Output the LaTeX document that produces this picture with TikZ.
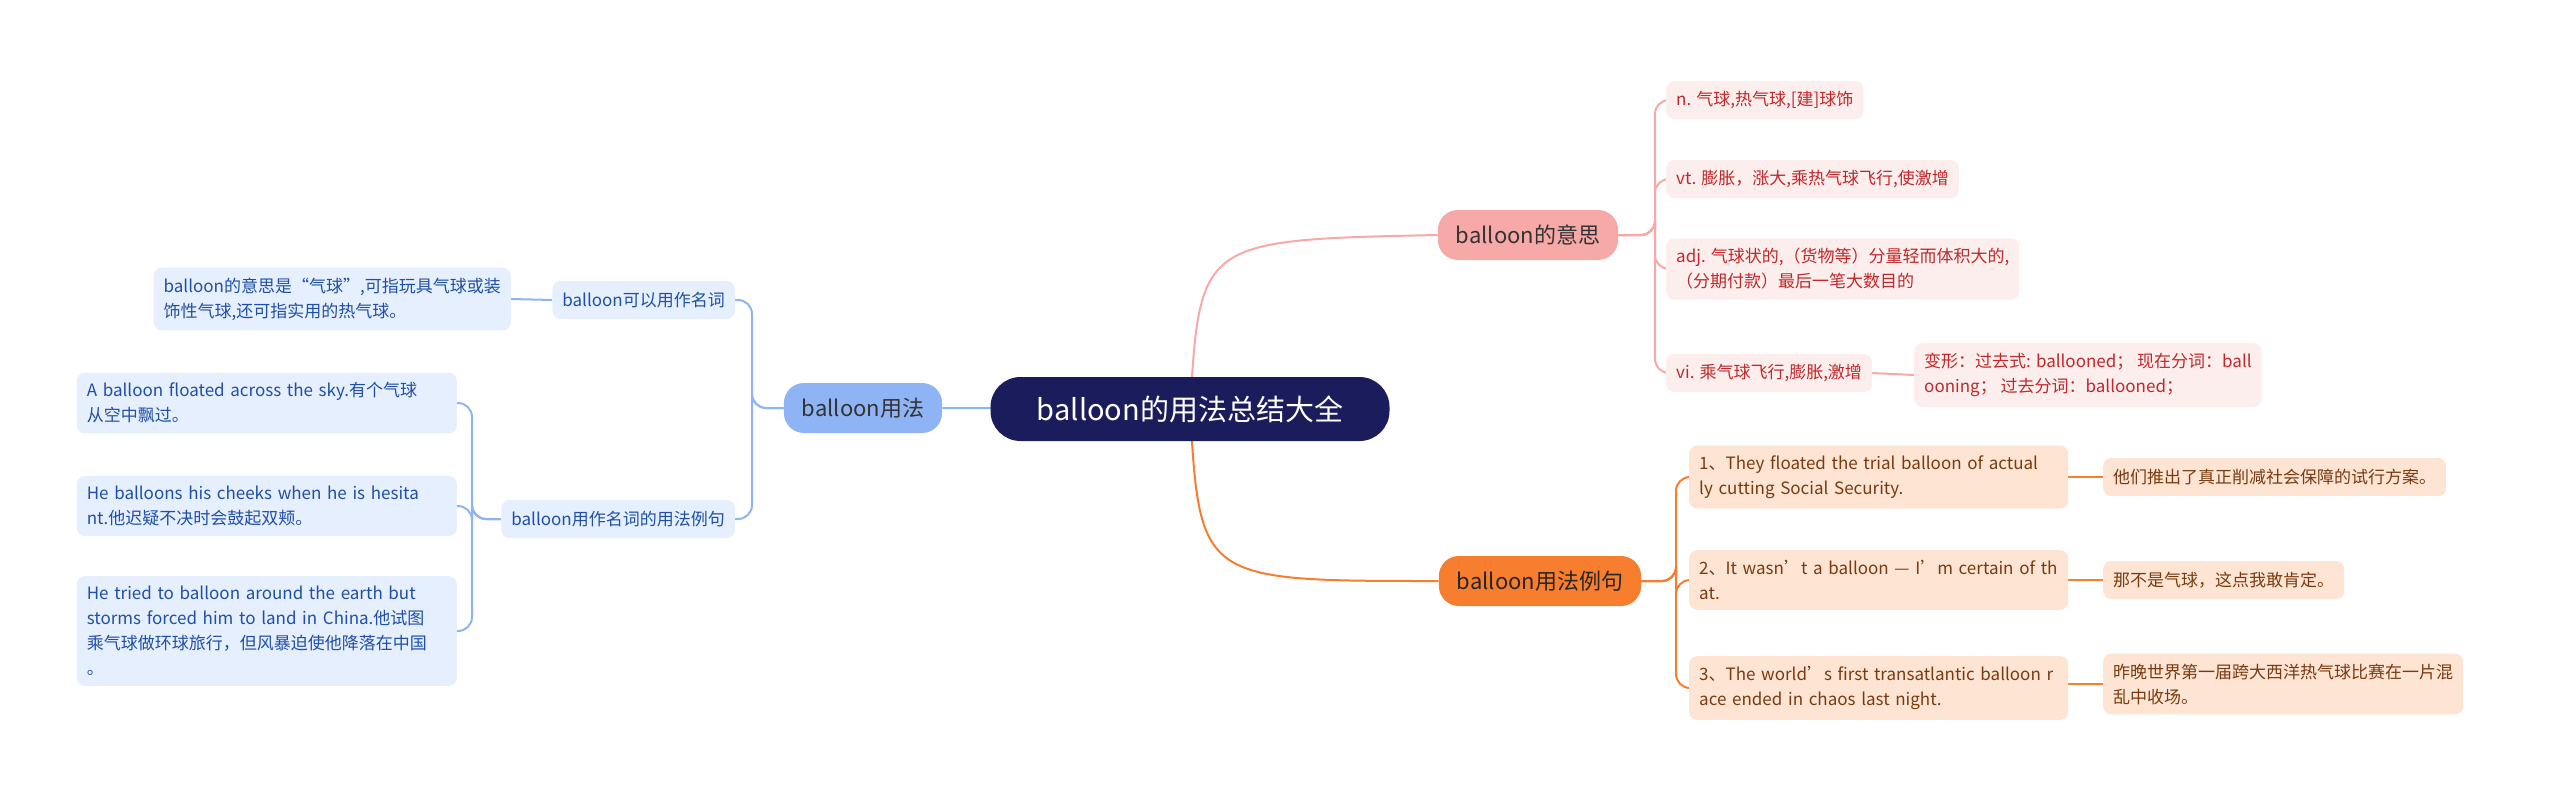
\documentclass[tikz,border=0pt]{standalone}
\usepackage{fontspec}
\setmainfont{Noto Sans CJK SC}
\usetikzlibrary{backgrounds}
\definecolor{navy}{HTML}{1B1C5C}
\definecolor{pinkm}{HTML}{F7A9A8}
\definecolor{pinkl}{HTML}{FDEEEE}
\definecolor{pinkt}{HTML}{C0282A}
\definecolor{orgm}{HTML}{F77D2F}
\definecolor{orgl}{HTML}{FDE4D3}
\definecolor{orgt}{HTML}{7A3A10}
\definecolor{blum}{HTML}{8FB4F5}
\definecolor{blul}{HTML}{E6EFFD}
\definecolor{blut}{HTML}{1F4FA8}
\tikzset{
  box/.style={rounded corners=8pt, inner sep=10pt, align=left},
  leaf/.style={box, font=\fontsize{17}{25}\selectfont, minimum height=38pt},
  pleaf/.style={leaf, fill=pinkl, text=pinkt},
  oleaf/.style={leaf, fill=orgl, text=orgt},
  bleaf/.style={leaf, fill=blul, text=blut},
  branch/.style={box, rounded corners=20pt, font=\fontsize{22}{26}\selectfont, minimum height=50pt, inner xsep=18pt},
  pline/.style={draw=pinkm, line width=2pt},
  oline/.style={draw=orgm, line width=2pt},
  bline/.style={draw=blum, line width=2pt},
}
\begin{document}
\begin{tikzpicture}[x=1pt,y=-1pt]
\useasboundingbox (0,0) rectangle (2560,793);
% centre
\node (root) [box, fill=navy, text=white, rounded corners=30pt, font=\fontsize{29}{34}\selectfont, minimum width=399pt, minimum height=64pt, align=center] at (1190,409) {balloon的用法总结大全};
% right, pink
\node (mean) [branch, fill=pinkm, text=black!80] at (1528,235) {balloon的意思};
\node (n) [pleaf, anchor=west] at (1666,100) {n. 气球,热气球,[建]球饰};
\node (vt) [pleaf, anchor=west] at (1666,179) {vt. 膨胀，涨大,乘热气球飞行,使激增};
\node (adj) [pleaf, anchor=west] at (1666,269) {adj. 气球状的,（货物等）分量轻而体积大的,\\（分期付款）最后一笔大数目的};
\node (vi) [pleaf, anchor=west] at (1666,373) {vi. 乘气球飞行,膨胀,激增};
\node (form) [pleaf, anchor=west] at (1914,375) {变形：过去式: ballooned；  现在分词：ball\\ooning；  过去分词：ballooned；};
% right, orange
\node (ex) [branch, fill=orgm, text=black!85] at (1540,581) {balloon用法例句};
\node (e1) [oleaf, text width=359pt, anchor=west] at (1689,477) {1、They floated the trial balloon of actual\\ly cutting Social Security.};
\node (e2) [oleaf, text width=359pt, anchor=west] at (1689,580) {2、It wasn't a balloon — I'm certain of th\\at.};
\node (e3) [oleaf, text width=359pt, anchor=west] at (1689,688) {3、The world's first transatlantic balloon r\\ace ended in chaos last night.};
\node (c1) [oleaf, anchor=west] at (2103,477) {他们推出了真正削减社会保障的试行方案。};
\node (c2) [oleaf, anchor=west] at (2103,580) {那不是气球，这点我敢肯定。};
\node (c3) [oleaf, anchor=west] at (2103,684) {昨晚世界第一届跨大西洋热气球比赛在一片混\\乱中收场。};
% left, blue
\node (use) [branch, fill=blum, text=black!80] at (863,408) {balloon用法};
\node (noun) [bleaf, anchor=east] at (735,300) {balloon可以用作名词};
\node (desc) [bleaf, anchor=east] at (511,299) {balloon的意思是“气球”,可指玩具气球或装\\饰性气球,还可指实用的热气球。};
\node (samp) [bleaf, anchor=east] at (735,519) {balloon用作名词的用法例句};
\node (s1) [bleaf, text width=360pt, anchor=east] at (457,403) {A balloon floated across the sky.有个气球\\从空中飘过。};
\node (s2) [bleaf, text width=360pt, anchor=east] at (457,506) {He balloons his cheeks when he is hesita\\nt.他迟疑不决时会鼓起双颊。};
\node (s3) [bleaf, text width=360pt, anchor=east] at (457,631) {He tried to balloon around the earth but\\storms forced him to land in China.他试图\\乘气球做环球旅行，但风暴迫使他降落在中国\\。};
\begin{pgfonlayer}{background}
\draw [pline] (root.center) .. controls (1200,240) .. (mean.west);
\draw [oline] (root.center) .. controls (1200,581) .. (ex.west);
\draw [bline] (root.center) -- (use.east);
\foreach \k in {n,vt,adj,vi}
  \draw [pline, rounded corners=14pt] (mean.east) -| (1655,235) |- (\k.west);
\draw [pline] (vi.east) -- (form.west);
\foreach \k in {e1,e2,e3}
  \draw [oline, rounded corners=14pt] (ex.east) -| (1676,581) |- (\k.west);
\foreach \k/\c in {e1/c1,e2/c2,e3/c3}
  \draw [oline] (\k.east |- \c.west) -- (\c.west);
\foreach \k in {noun,samp}
  \draw [bline, rounded corners=14pt] (use.west) -| (752,408) |- (\k.east);
\draw [bline] (noun.west) -- (desc.east);
\foreach \k in {s1,s2,s3}
  \draw [bline, rounded corners=14pt] (samp.west) -| (472,519) |- (\k.east);
\end{pgfonlayer}
\end{tikzpicture}
\end{document}
